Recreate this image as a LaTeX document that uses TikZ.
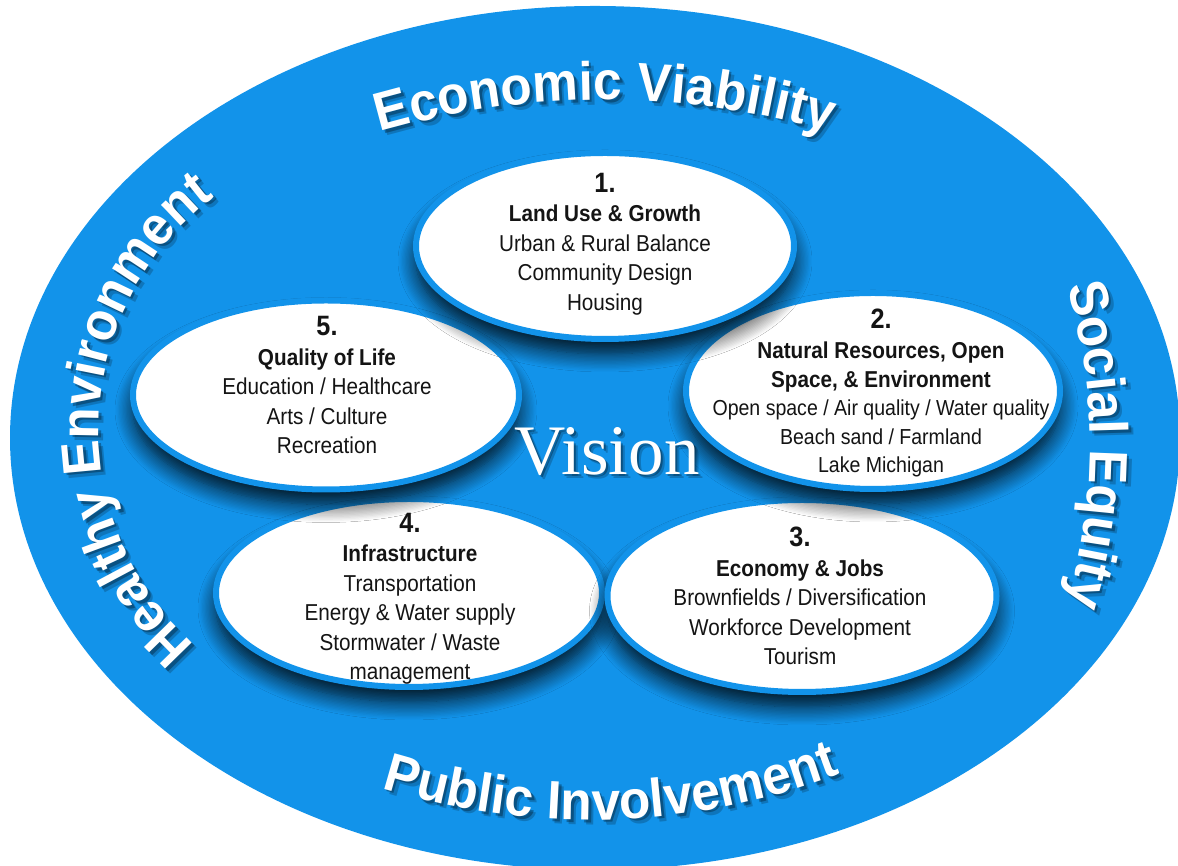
\documentclass[tikz,border=0pt]{standalone}
\usepackage{fontspec}
\setmainfont{Liberation Sans}[FakeStretch=0.9]
\newfontfamily\curvefont{Liberation Sans}[FakeStretch=0.95]
\newfontfamily\visionfont{Liberation Serif}
\usetikzlibrary{shapes.geometric,shadows.blur,decorations.text,calc}
\definecolor{bgblue}{RGB}{18,147,234}
\definecolor{ink}{RGB}{20,20,20}
\newcommand{\curvetxt}{\curvefont\bfseries\fontsize{54}{58}\selectfont}
\newcommand{\numtxt}{\fontsize{28}{29.5}\selectfont\bfseries}
\tikzset{
  bubble/.style={ellipse, fill=white, draw=bgblue, line width=6pt, inner sep=0pt,
    blur shadow={shadow xshift=0pt, shadow yshift=-15pt, shadow blur radius=18pt,
      shadow opacity=90, shadow blur steps=14}},
  body/.style={align=center, text=ink, inner sep=0pt, font=\fontsize{23}{29.5}\selectfont},
  curvelabel/.style={decorate, decoration={text along path, text align=center,
      text color=white, text={|\curvetxt|#1}}},
  curveshadow/.style={decorate, decoration={text along path, text align=center,
      text color=black, text={|\curvetxt|#1}}},
}
\begin{document}
\begin{tikzpicture}[x=1pt,y=1pt]
\useasboundingbox (0,0) rectangle (1178,866);
\fill[white] (0,0) rectangle (1178,866);
\node[ellipse, fill=bgblue, minimum width=1170pt, minimum height=864pt, inner sep=0pt] (outer) at (595,428) {};

% ellipses, drawn bottom to top
\node[bubble, minimum width=386pt, minimum height=188pt] (e4) at (409,273) {};
\node[bubble, minimum width=389pt, minimum height=192pt] (e3) at (802,270) {};
\node[bubble, minimum width=386pt, minimum height=189pt] (e5) at (326,471) {};
\node[bubble, minimum width=374pt, minimum height=196pt] (e2) at (873,475) {};
\node[bubble, minimum width=378pt, minimum height=186pt] (e1) at (605,620) {};

% texts
\node[body] (t1) at (605,622) {{\numtxt 1.}\\{\bfseries Land Use \& Growth}\\Urban \& Rural Balance\\Community Design\\Housing};
\node[body, font=\fontsize{21.7}{28.5}\selectfont] (t2) at (881,473) {{\numtxt 2.}\\[2pt]{\fontsize{23}{29}\selectfont\bfseries Natural Resources, Open}\\{\fontsize{23}{29}\selectfont\bfseries Space, \& Environment}\\Open space / Air quality / Water quality\\Beach sand / Farmland\\Lake Michigan};
\node[body] (t3) at (800,270) {{\numtxt 3.}\\{\bfseries Economy \& Jobs}\\Brownfields / Diversification\\Workforce Development\\Tourism};
\node[body] (t4) at (410,267) {{\numtxt 4.}\\{\bfseries Infrastructure}\\Transportation\\Energy \& Water supply\\Stormwater / Waste\\management};
\node[body] (t5) at (327,481) {{\numtxt 5.}\\{\bfseries Quality of Life}\\Education / Healthcare\\Arts / Culture\\Recreation};

% Vision
\foreach \d/\o in {2/0.3,4/0.2}{
  \node[text=black, opacity=\o, font=\visionfont\fontsize{71}{71}\selectfont, anchor=base, inner sep=0pt] (vs\d) at (607+\d,391-\d) {Vision};
}
\node[text=white, font=\visionfont\fontsize{71}{71}\selectfont, anchor=base, inner sep=0pt] (vision) at (607,391) {Vision};

% curved labels: shadows
\foreach \d/\o in {2.5/0.3,5/0.2}{
  \begin{scope}[opacity=\o, shift={(\d,-\d)}]
    \path[curveshadow=Economic Viability] ($(605,-41)+(125:807)$) arc[start angle=125, end angle=55, radius=807];
    \path[curveshadow=Healthy Environment] ($(390,437)+(250:291)$) arc[start angle=250, end angle=105, radius=291];
    \path[curveshadow=Social Equity] ($(533,421)+(30:557)$) arc[start angle=30, end angle=-30, radius=557];
    \path[curveshadow=Public Involvement] ($(590,747)+(-113:701)$) arc[start angle=-113, end angle=-63.4, radius=701];
  \end{scope}
}
\path[curvelabel=Economic Viability] ($(605,-41)+(125:807)$) arc[start angle=125, end angle=55, radius=807];
\path[curvelabel=Healthy Environment] ($(390,437)+(250:291)$) arc[start angle=250, end angle=105, radius=291];
\path[curvelabel=Social Equity] ($(533,421)+(30:557)$) arc[start angle=30, end angle=-30, radius=557];
\path[curvelabel=Public Involvement] ($(590,747)+(-113:701)$) arc[start angle=-113, end angle=-63.4, radius=701];
\end{tikzpicture}
\end{document}
